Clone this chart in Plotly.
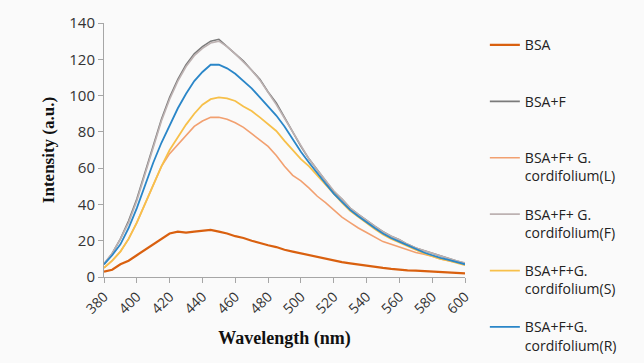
import plotly.graph_objects as go

wavelength = [380, 385, 390, 395, 400, 405, 410, 415, 420, 425, 430, 435, 440, 445, 450,
              455, 460, 465, 470, 475, 480, 485, 490, 495, 500, 505, 510, 515, 520, 525,
              530, 535, 540, 545, 550, 555, 560, 565, 570, 575, 580, 585, 590, 595, 600]

bsa = [3, 4, 7, 9, 12, 15, 18, 21, 24, 25, 24.5, 25, 25.5, 26, 25,
       24, 22.5, 21.5, 20, 18.6, 17.5, 16.5, 15, 14, 13, 12, 11, 10, 9, 8.2,
       7.5, 6.8, 6, 5.5, 5, 4.5, 4, 3.7, 3.5, 3.2, 3, 2.7, 2.5, 2.2, 2]

bsa_f = [7, 13, 21, 31, 43, 58, 73, 87, 99, 109, 117, 123, 127, 130, 131,
         127, 123, 119, 114, 109, 102, 96, 88, 80, 72, 65, 59, 53, 47, 43,
         38, 34.5, 31, 28, 25, 22.5, 20.5, 18, 16, 14.5, 13, 11.5, 10, 8.8, 7.5]

g_leaf = [5, 9, 14, 21, 30, 40, 51, 61, 68, 73, 78, 83, 86, 88, 88,
          87, 85, 82.5, 79, 75.5, 72, 67, 61, 56, 53, 49, 44.5, 41, 37, 33,
          30, 27, 24.5, 22, 19.5, 18, 16.5, 15, 13.5, 12.5, 11.5, 10, 9, 8, 7]

g_flower = [7.5, 13, 21, 30, 42, 57, 72, 86, 98, 108, 116, 122, 126, 129, 130,
            127, 123, 118.5, 114, 108.5, 102, 95, 87.5, 80, 72, 65, 59, 53.5, 47.5, 43,
            38, 34.5, 31, 28, 25, 22.5, 20.5, 18, 16, 14.5, 13, 11.5, 10, 8.8, 7.8]

g_stem = [5, 9, 14, 21, 30, 40, 51, 61, 70, 77, 84, 90, 95, 98, 99,
          98.5, 97, 94, 91.5, 88, 84.5, 80.5, 75, 70, 65, 61, 56, 50.5, 45.5, 41,
          36.5, 33, 29.5, 26.5, 23.5, 21, 19, 17, 15, 13, 11.5, 10, 9, 7.7, 6.5]

g_root = [7, 12, 18, 27, 38, 51, 63, 74, 84, 93, 101, 108, 113, 117, 117,
          115, 112, 108, 104, 99, 94, 89, 83, 76, 69, 63, 57, 51.5, 46, 41.5,
          37, 33.5, 30, 27, 24, 21.5, 19.5, 17.5, 15.5, 13.5, 12, 10.5, 9.5, 8.2, 7]

names = ["BSA", "BSA+F", "BSA+F+ G.<br>cordifolium(L)", "BSA+F+ G.<br>cordifolium(F)",
         "BSA+F+G.<br>cordifolium(S)", "BSA+F+G.<br>cordifolium(R)"]
series = [bsa, bsa_f, g_leaf, g_flower, g_stem, g_root]
colors = ["#D9600F", "#7A7A7A", "#F2A070", "#BDB2B2", "#F7C04A", "#2A86C8"]
widths = [2.2, 1.6, 1.6, 1.6, 1.8, 1.8]

fig = go.Figure()
for i, (n, s, c, w) in enumerate(zip(names, series, colors, widths)):
    label = n if "<br>" in n else n + "<br>\u00a0"
    fig.add_trace(go.Scatter(x=wavelength, y=s, mode="lines", name=label,
                             line=dict(color=c, width=w), legendgroup=str(i)))

fig.update_layout(
    width=644, height=363,
    margin=dict(l=104, r=179, t=23, b=86),
    paper_bgcolor="#FAFAFA", plot_bgcolor="#FAFAFA",
    showlegend=True,
    legend=dict(x=1.055, y=0.975, xanchor="left", yanchor="top",
                font=dict(family="Open Sans", size=14, color="#222"),
                valign="top", tracegroupgap=17, traceorder="grouped",
                bgcolor="rgba(0,0,0,0)", maxheight=400),
    xaxis=dict(range=[380, 600], tickmode="array", tickvals=list(range(380, 601, 20)),
               tickangle=-45, showgrid=False, zeroline=False, showline=True,
               linecolor="#A6A6A6", linewidth=1, ticks="outside", ticklen=5,
               tickcolor="#A6A6A6",
               tickfont=dict(family="Open Sans", size=14, color="#333"),
               title=dict(text="<b>Wavelength (nm)</b>",
                          font=dict(family="Liberation Serif", size=18, color="#111"),
                          standoff=14)),
    yaxis=dict(range=[0, 140], tickvals=list(range(0, 141, 20)),
               showgrid=False, zeroline=False, showline=True,
               linecolor="#A6A6A6", linewidth=1, ticks="outside", ticklen=5,
               tickcolor="#A6A6A6",
               tickfont=dict(family="Open Sans", size=15, color="#333"),
               title=dict(text="<b>Intensity (a.u.)</b>",
                          font=dict(family="Liberation Serif", size=17, color="#111"),
                          standoff=10)),
)

fig.write_html("out.html")
